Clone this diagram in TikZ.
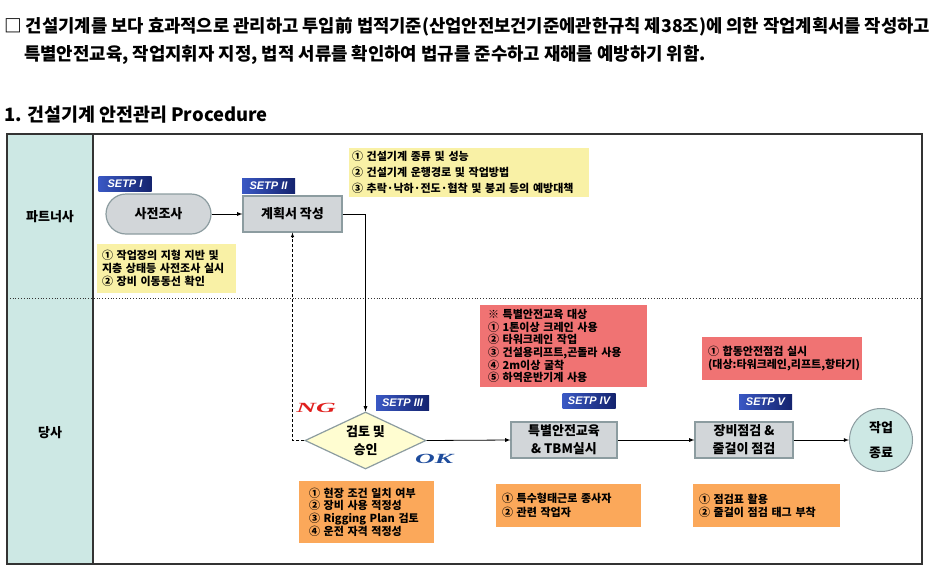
\documentclass[tikz,border=0pt]{standalone}
\usepackage{fontspec}
\setmainfont{Noto Sans CJK KR}
\newfontfamily\stepfont{Liberation Sans}
\newfontfamily\signfont{Liberation Serif}[FakeStretch=1.95]

\usetikzlibrary{shapes.geometric,calc}

\definecolor{lanefill}{HTML}{CDE8E4}
\definecolor{boxfill}{HTML}{D2D6D9}
\definecolor{boxline}{HTML}{8C9CA0}
\definecolor{notey}{HTML}{F9F1A6}
\definecolor{noter}{HTML}{F07373}
\definecolor{noteo}{HTML}{FBA85A}
\definecolor{stepdark}{HTML}{14236E}
\definecolor{steplight}{HTML}{3A58C4}
\definecolor{ngred}{HTML}{E0201E}
\definecolor{okblue}{HTML}{1E4C9C}

\newcommand\notefont{\fontsize{11}{13}\selectfont\bfseries}
\newcommand\procfont{\fontsize{13}{18}\selectfont\bfseries}

\tikzset{
  stepbox/.style={rectangle, left color=steplight, right color=stepdark,
    minimum width=53pt, minimum height=15pt, inner sep=0pt, text=white,
    font=\stepfont\fontsize{11}{12}\selectfont\bfseries\itshape},
  procbox/.style={rectangle, fill=boxfill, draw=boxline, line width=1.2pt,
    inner sep=1pt, align=center, font=\procfont},
  note/.style={rectangle, inner xsep=6pt, inner ysep=0pt, align=left, font=\notefont},
  flow/.style={-latex, line width=0.8pt},
}

\begin{document}
\begin{tikzpicture}[x=1pt, y=-1pt]
  \useasboundingbox (0,0) rectangle (936,576);

  \node[anchor=west, inner sep=0pt, font=\fontsize{17.7}{18}\selectfont\bfseries] (intro1) at (4,27)
    {□ 건설기계를 보다 효과적으로 관리하고 투입前 법적기준(산업안전보건기준에관한규칙 제38조)에 의한 작업계획서를 작성하고};
  \node[anchor=west, inner sep=0pt, font=\fontsize{17.8}{18}\selectfont\bfseries] (intro2) at (24,55)
    {특별안전교육, 작업지휘자 지정, 법적 서류를 확인하여 법규를 준수하고 재해를 예방하기 위함.};
  \node[anchor=west, inner sep=0pt, font=\fontsize{18.4}{19}\selectfont\bfseries] (title) at (4,115)
    {1. 건설기계 안전관리 Procedure};

  \fill[lanefill] (7,134) rectangle (93,564);
  \draw[black!80, line width=0.8pt, dotted] (7,298) -- (922,298);
  \draw[black!80, line width=1.2pt] (7,134) rectangle (922,564);
  \draw[black!80, line width=1.2pt] (93,134) -- (93,564);
  \node[font=\procfont] (lane1) at (50,217) {파트너사};
  \node[font=\procfont] (lane2) at (50,433) {당사};

  \node[procbox, rounded corners=20pt, minimum width=105pt, minimum height=40pt] (survey) at (158.5,214) {사전조사};
  \node[procbox, minimum width=99pt, minimum height=36pt] (plan) at (292.5,214) {계획서 작성};
  \node[diamond, aspect=2.1, fill=yellow!18, draw=boxline, line width=1.2pt, inner sep=0pt,
    minimum width=121pt, minimum height=57pt, align=center, font=\procfont] (review) at (365.5,440.5) {검토 및\\승인};
  \node[procbox, minimum width=106pt, minimum height=36pt] (edu) at (564,440) {특별안전교육\\\& TBM실시};
  \node[procbox, minimum width=98pt, minimum height=36pt] (check) at (744,440) {장비점검 \&\\줄걸이 점검};
  \node[circle, fill=lanefill, draw=boxline, line width=1pt, minimum size=63pt, inner sep=0pt,
    align=center, font=\fontsize{13}{25}\selectfont\bfseries] (finish) at (881,440) {작업\\종료};

  \node[stepbox] (step1) at (125,183.5) {SETP I};
  \node[stepbox] (step2) at (268.5,185.5) {SETP II};
  \node[stepbox] (step3) at (402.5,402.5) {SETP III};
  \node[stepbox] (step4) at (589,401) {SETP IV};
  \node[stepbox] (step5) at (765.5,402) {SETP V};

  \node[note, fill=notey, inner xsep=5pt, text width=129pt, minimum height=49pt] (survey note) at (166.5,268.5)
    {① 작업장의 지형 지반 및\\지층 상태등 사전조사 실시\\② 장비 이동동선 확인};
  \node[note, fill=notey, inner xsep=3pt, text width=234pt, minimum height=49pt,
    font=\fontsize{11}{16}\selectfont\bfseries] (plan note) at (469,172.5)
    {① 건설기계 종류 및 성능\\② 건설기계 운행경로 및 작업방법\\③ 추락·낙하·전도·협착 및 붕괴 등의 예방대책};
  \node[note, fill=noter, inner xsep=8pt, text width=151pt, minimum height=82pt,
    font=\fontsize{11}{12.7}\selectfont\bfseries] (edu target) at (563.5,346)
    {※ 특별안전교육 대상\\① 1톤이상 크레인 사용\\② 타워크레인 작업\\③ 건설용리프트,곤돌라 사용\\④ 2m이상 굴착\\⑤ 하역운반기계 사용};
  \node[note, fill=noter, text width=148pt, minimum height=43pt] (joint check) at (782,358.5)
    {① 합동안전점검 실시\\(대상:타워크레인,리프트,항타기)};
  \node[note, fill=noteo, inner xsep=10pt, text width=115pt, minimum height=62pt,
    font=\fontsize{11}{12.7}\selectfont\bfseries] (review note) at (366.5,512)
    {① 현장 조건 일치 여부\\② 장비 사용 적정성\\③ Rigging Plan 검토\\④ 운전 자격 적정성};
  \node[note, fill=noteo, text width=133pt, minimum height=43pt,
    font=\fontsize{11}{14.5}\selectfont\bfseries] (edu note) at (568.5,505.5)
    {① 특수형태근로 종사자\\② 관련 작업자};
  \node[note, fill=noteo, text width=135pt, minimum height=43pt] (check note) at (766.5,505.5)
    {① 점검표 활용\\② 줄걸이 점검 태그 부착};

  \node[text=ngred, font=\signfont\fontsize{14}{15}\selectfont\bfseries\itshape] (ng) at (316,408) {NG};
  \node[text=okblue, font=\signfont\fontsize{14}{15}\selectfont\bfseries\itshape] (ok) at (434,459) {OK};

  \draw[flow] (survey) -- (plan);
  \draw[flow] (plan.east) -| (review.north);
  \draw[flow, densely dashed, line width=0.6pt] (review.west) -| (plan.south);
  \draw[flow] (review.east) -- (edu.west);
  \draw[flow] (edu.east) -- (check.west);
  \draw[flow] (check.east) -- (finish.west);
\end{tikzpicture}
\end{document}
